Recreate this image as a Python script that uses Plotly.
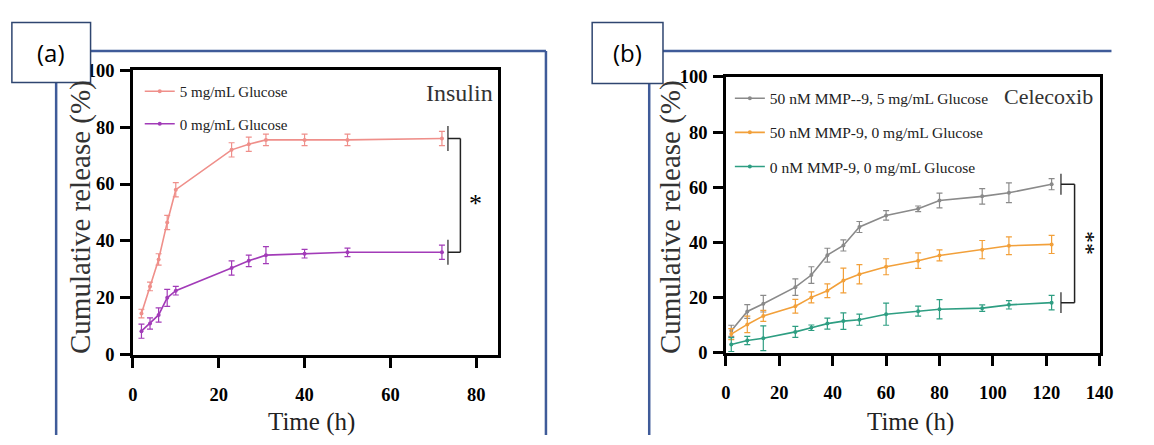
import plotly.graph_objects as go

W, H = 1154, 445

# ---------------- data: panel (a) Insulin ----------------
t_a = [2, 4, 6, 8, 10, 23, 27, 31, 40, 50, 72]
glu5 = [14.5, 24, 33.5, 46.5, 58, 72, 74, 75.5, 75.5, 75.5, 76]
glu5_err = [1.5, 1.5, 2, 2.5, 2.5, 2.5, 2.5, 2, 2, 2, 2.5]
glu0 = [8.3, 11, 14, 20, 22.5, 30.5, 33, 35, 35.5, 36, 36]
glu0_err = [2.5, 2, 2.5, 3, 1.5, 2.5, 2, 3, 1.5, 1.5, 2.5]
names_a = ["5 mg/mL Glucose", "0 mg/mL Glucose"]

# ---------------- data: panel (b) Celecoxib ----------------
t_b = [2, 8, 14, 26, 32, 38, 44, 50, 60, 72, 80, 96, 106, 122]
mmp_glu = [8, 15, 17.8, 23.8, 28.2, 35.4, 38.9, 45.6, 49.8, 52.2, 55.2, 56.7, 58, 61.1]
mmp_glu_err = [2, 2.5, 3, 3, 3, 2.5, 2, 2, 1.7, 1, 2.7, 2.8, 3.6, 2]
mmp_only = [6.8, 10.3, 13.4, 16.9, 20.1, 22.5, 26.2, 28.5, 31.2, 33.4, 35.3, 37.4, 38.8, 39.3]
mmp_only_err = [2, 3, 2, 2.5, 2, 2.5, 4.5, 3.5, 2.9, 2.8, 2, 3.3, 3.2, 3.3]
control = [3, 4.5, 5.3, 7.6, 9.1, 10.6, 11.5, 12, 14, 15.1, 15.8, 16.2, 17.4, 18.2]
control_err = [2.5, 1.5, 4.5, 2, 1, 2, 3, 2, 4, 1.8, 3.5, 1.2, 1.5, 2.6]
names_b = ["50 nM MMP--9, 5 mg/mL Glucose", "50 nM MMP-9, 0 mg/mL Glucose",
           "0 nM MMP-9, 0 mg/mL Glucose"]

xticks_a = [0, 20, 40, 60, 80]
xticks_b = [0, 20, 40, 60, 80, 100, 120, 140]
yticks = [0, 20, 40, 60, 80, 100]

C_PINK = "#ef8f8a"
C_PURPLE = "#a23bb8"
C_GRAY = "#8a8a8a"
C_ORANGE = "#f2a03a"
C_GREEN = "#2e9e82"
C_BLUE = "#3f5b99"
SERIF = "Liberation Serif, Times New Roman, serif"


def px(x):
    return x / W


def py(y):
    return 1 - y / H


fig = go.Figure()


def add_series(x, y, err, name, color, xa, ya, legend, grp):
    fig.add_trace(go.Scatter(
        x=x, y=y, name=name, mode="lines+markers",
        line=dict(color=color, width=1.6),
        marker=dict(color=color, size=4),
        error_y=dict(type="data", array=err, color=color, thickness=1.2, width=3),
        xaxis=xa, yaxis=ya, legend=legend, legendgroup=grp,
    ))


add_series(t_a, glu5, glu5_err, names_a[0], C_PINK, "x", "y", "legend", "a1")
add_series(t_a, glu0, glu0_err, names_a[1], C_PURPLE, "x", "y", "legend", "a2")
add_series(t_b, mmp_glu, mmp_glu_err, names_b[0], C_GRAY, "x2", "y2", "legend2", "b1")
add_series(t_b, mmp_only, mmp_only_err, names_b[1], C_ORANGE, "x2", "y2", "legend2", "b2")
add_series(t_b, control, control_err, names_b[2], C_GREEN, "x2", "y2", "legend2", "b3")

axis_common = dict(
    showline=True, linecolor="black", linewidth=2.5, mirror=True,
    ticks="outside", ticklen=10, tickwidth=2.5, tickcolor="black",
    showgrid=False, zeroline=False,
    tickfont=dict(family=SERIF, size=18.5, color="black", weight="bold"),
)

fig.update_layout(
    width=W, height=H,
    margin=dict(l=0, r=0, t=0, b=0),
    paper_bgcolor="white", plot_bgcolor="white",
    xaxis=dict(domain=[px(130), px(501)], range=[0, 85], tickvals=xticks_a,
               anchor="y", ticklabelstandoff=11, **axis_common),
    yaxis=dict(domain=[py(361), py(63)], range=[0, 100], tickvals=yticks,
               anchor="x", ticklabelstandoff=2, **axis_common),
    xaxis2=dict(domain=[px(733), px(1113)], range=[0, 140], tickvals=xticks_b,
                anchor="y2", ticklabelstandoff=11, **axis_common),
    yaxis2=dict(domain=[py(359), py(70)], range=[0, 100], tickvals=yticks,
                anchor="x2", ticklabelstandoff=2, **axis_common),
    legend=dict(x=px(137), y=py(68), xanchor="left", yanchor="top",
                bgcolor="rgba(0,0,0,0)", tracegroupgap=10,
                font=dict(family=SERIF, size=15, color="#222")),
    legend2=dict(x=px(737), y=py(75), xanchor="left", yanchor="top",
                 bgcolor="rgba(0,0,0,0)", tracegroupgap=11,
                 font=dict(family=SERIF, size=15.5, color="#222")),
    showlegend=True,
)

shapes = []
# blue frames
shapes += [
    dict(type="line", xref="paper", yref="paper", x0=px(52), x1=px(52), y0=py(43), y1=py(445),
         line=dict(color=C_BLUE, width=2.5)),
    dict(type="line", xref="paper", yref="paper", x0=px(52), x1=px(550), y0=py(43), y1=py(43),
         line=dict(color=C_BLUE, width=2.5)),
    dict(type="line", xref="paper", yref="paper", x0=px(550), x1=px(550), y0=py(43), y1=py(445),
         line=dict(color=C_BLUE, width=2.5)),
    dict(type="line", xref="paper", yref="paper", x0=px(655), x1=px(655), y0=py(43), y1=py(445),
         line=dict(color=C_BLUE, width=2.5)),
    dict(type="line", xref="paper", yref="paper", x0=px(655), x1=px(1125), y0=py(43), y1=py(43),
         line=dict(color=C_BLUE, width=2.5)),
]
# label boxes
shapes += [
    dict(type="rect", xref="paper", yref="paper", x0=px(7), x1=px(87), y0=py(76), y1=py(13),
         fillcolor="white", line=dict(color="#2f4670", width=1.5)),
    dict(type="rect", xref="paper", yref="paper", x0=px(597), x1=px(669), y0=py(77), y1=py(13),
         fillcolor="white", line=dict(color="#2f4670", width=1.5)),
]


def bracket(xr, yr, top, bottom, xs, xe, half):
    out = []
    for v in (top, bottom):
        out.append(dict(type="line", xref=xr, yref=yr, x0=xs, x1=xs, y0=v - half, y1=v + half,
                        line=dict(color="#333", width=1.3)))
        out.append(dict(type="line", xref=xr, yref=yr, x0=xs, x1=xe, y0=v, y1=v,
                        line=dict(color="#222", width=1.5)))
    out.append(dict(type="line", xref=xr, yref=yr, x0=xe, x1=xe, y0=bottom, y1=top,
                    line=dict(color="#222", width=1.5)))
    return out


shapes += bracket("x", "y", glu5[-1], glu0[-1], t_a[-1] + 1.4, t_a[-1] + 4.3, 4.4)
shapes += bracket("x2", "y2", mmp_glu[-1], control[-1], t_b[-1] + 3.5, t_b[-1] + 8.6, 3.8)
fig.update_layout(shapes=shapes)


def label(text, x, y, size, family=SERIF, color="#222", angle=0, xanchor="center",
          xref="paper", yref="paper", yshift=0):
    return dict(text=text, x=x, y=y, xref=xref, yref=yref, xanchor=xanchor, yanchor="middle",
                textangle=angle, showarrow=False, yshift=yshift,
                font=dict(family=family, size=size, color=color))


ann = [
    label("(a)", px(47), py(45), 24, family="Open Sans", color="black"),
    label("(b)", px(633), py(45), 24, family="Open Sans", color="black"),
    label("Insulin", px(498), py(87), 24, color="#333", xanchor="right"),
    label("Celecoxib", px(1108), py(91), 22, color="#333", xanchor="right"),
    label("Cumulative release (%)", px(76), py(217), 29, color="#333", angle=-90),
    label("Cumulative release (%)", px(676), py(217), 29, color="#333", angle=-90),
    label("Time (h)", px(312), py(431), 25),
    label("Time (h)", px(921), py(431), 25),
    label("*", t_a[-1] + 7.8, (glu5[-1] + glu0[-1]) / 2, 26, color="black",
          xref="x", yref="y", yshift=-8),
    label("**", t_b[-1] + 13, (mmp_glu[-1] + control[-1]) / 2, 24, color="black",
          angle=90, xref="x2", yref="y2"),
]
fig.update_layout(annotations=ann)

fig.write_html("out.html")
